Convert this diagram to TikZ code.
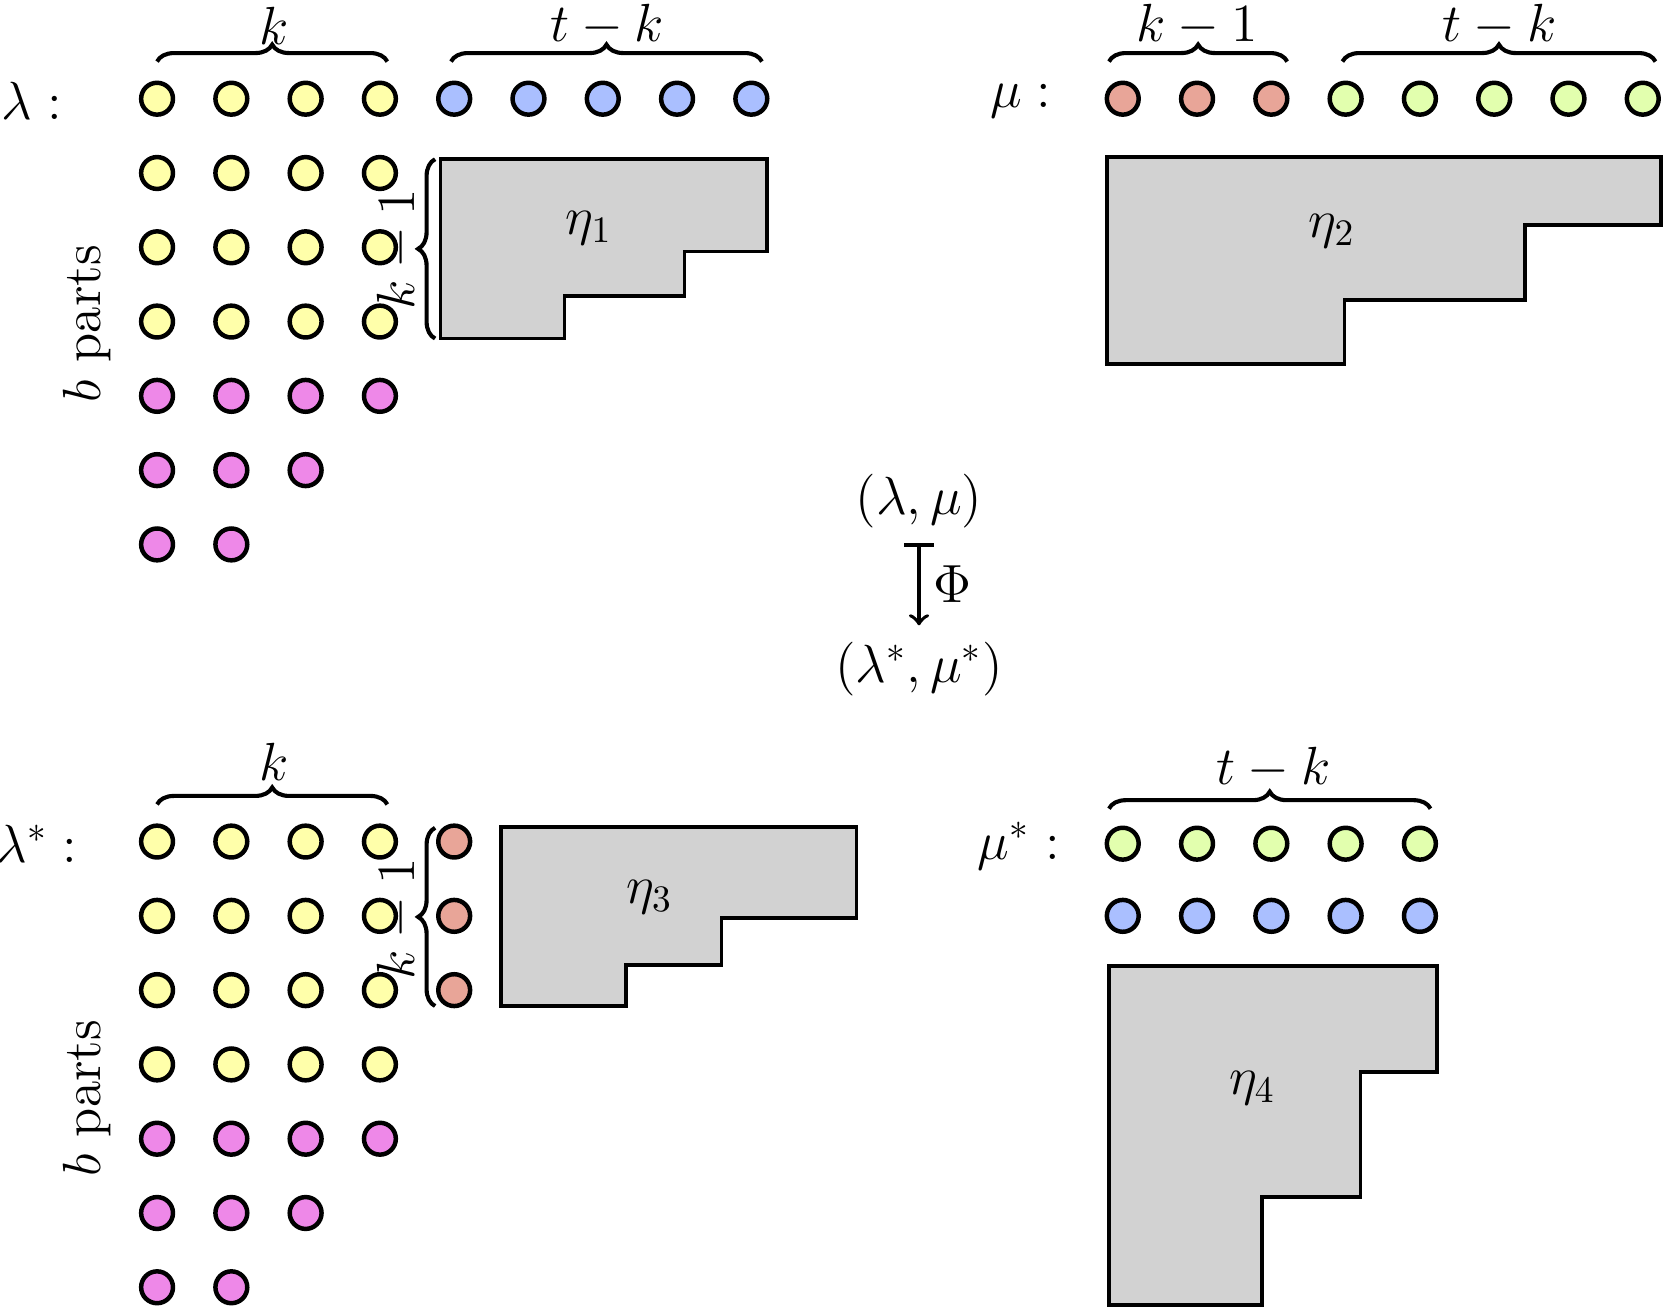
\documentclass[tikz,border=0pt]{standalone}
\usetikzlibrary{decorations.pathreplacing}
\definecolor{dotyellow}{HTML}{FFFFAA}
\definecolor{dotblue}{HTML}{AABFFF}
\definecolor{dotpink}{HTML}{EE88E8}
\definecolor{dotred}{HTML}{E8A598}
\definecolor{dotgreen}{HTML}{E2FFAE}
\tikzset{
  dot/.style={draw=black, line width=1.2pt, circle, minimum size=0.3cm, inner sep=0pt},
  block/.style={draw=black, fill=gray!35, line width=1pt},
  brc/.style={decorate, decoration={brace, amplitude=0.16cm}, line width=1.1pt},
  lbl/.style={font=\Large},
}
\begin{document}
\begin{tikzpicture}[x=0.01cm, y=-0.01cm]
  \useasboundingbox (0,0) rectangle (1568,1235);

  % lambda
  \node[lbl] (lam) at (30,95) {$\lambda:$};
  \foreach \r in {1,...,4} \foreach \c in {1,...,4}
    \node[dot, fill=dotyellow] (l\r\c) at ({78+70*\c},{23+70*\r}) {};
  \foreach \c in {1,...,4} \node[dot, fill=dotpink] at ({78+70*\c},373) {};
  \foreach \c in {1,...,3} \node[dot, fill=dotpink] at ({78+70*\c},443) {};
  \foreach \c in {1,...,2} \node[dot, fill=dotpink] at ({78+70*\c},513) {};
  \foreach \c in {5,...,9} \node[dot, fill=dotblue] (lb\c) at ({78+70*\c},93) {};
  \draw[brc] (148,58) -- (365,58);
  \node[lbl] at (258,24) {$k$};
  \draw[brc] (425,58) -- (718,58);
  \node[lbl] at (572,24) {$t-k$};
  \node[lbl, rotate=90] at (82,305) {$b$ parts};
  \draw[block] (415,150) -- (723,150) -- (723,237) -- (645,237) -- (645,279)
    -- (532,279) -- (532,319) -- (415,319) -- cycle;
  \node[lbl] at (555,215) {$\eta_1$};
  \draw[brc] (410,319) -- (410,150);
  \node[lbl, rotate=90] at (375,235) {$k-1$};

  % mu
  \node[lbl] (mu) at (962,95) {$\mu:$};
  \foreach \c in {1,...,3} \node[dot, fill=dotred] at ({988+70*\c},93) {};
  \foreach \c in {4,...,8} \node[dot, fill=dotgreen] at ({988+70*\c},93) {};
  \draw[brc] (1045,58) -- (1213,58);
  \node[lbl] at (1128,24) {$k-1$};
  \draw[brc] (1265,58) -- (1560,58);
  \node[lbl] at (1413,24) {$t-k$};
  \draw[block] (1043,148) -- (1565,148) -- (1565,212) -- (1437,212) -- (1437,283)
    -- (1267,283) -- (1267,343) -- (1043,343) -- cycle;
  \node[lbl] at (1255,218) {$\eta_2$};

  % map
  \node[lbl] (pair) at (866,472) {$(\lambda,\mu)$};
  \node[lbl] (pairs) at (866,630) {$(\lambda^*,\mu^*)$};
  \draw[|->, line width=1pt] ([yshift=-0.02cm]pair.south) -- node[lbl, right] {$\Phi$} ([yshift=0.03cm]pairs.north);

  % lambda star
  \node[lbl] (lams) at (35,795) {$\lambda^*:$};
  \foreach \r in {1,...,4} \foreach \c in {1,...,4}
    \node[dot, fill=dotyellow] at ({78+70*\c},{723+70*\r}) {};
  \foreach \c in {1,...,4} \node[dot, fill=dotpink] at ({78+70*\c},1073) {};
  \foreach \c in {1,...,3} \node[dot, fill=dotpink] at ({78+70*\c},1143) {};
  \foreach \c in {1,...,2} \node[dot, fill=dotpink] at ({78+70*\c},1213) {};
  \foreach \r in {1,...,3} \node[dot, fill=dotred] at (428,{723+70*\r}) {};
  \draw[brc] (148,758) -- (365,758);
  \node[lbl] at (258,718) {$k$};
  \node[lbl, rotate=90] at (82,1035) {$b$ parts};
  \draw[brc] (410,948) -- (410,780);
  \node[lbl, rotate=90] at (375,866) {$k-1$};
  \draw[block] (472,779) -- (807,779) -- (807,865) -- (680,865) -- (680,909)
    -- (590,909) -- (590,948) -- (472,948) -- cycle;
  \node[lbl] at (612,845) {$\eta_3$};

  % mu star
  \node[lbl] (mus) at (960,797) {$\mu^*:$};
  \foreach \c in {1,...,5} {
    \node[dot, fill=dotgreen] at ({988+70*\c},795) {};
    \node[dot, fill=dotblue] at ({988+70*\c},863) {};
  }
  \draw[brc] (1045,762) -- (1348,762);
  \node[lbl] at (1200,724) {$t-k$};
  \draw[block] (1045,910) -- (1354,910) -- (1354,1010) -- (1282,1010) -- (1282,1128)
    -- (1189,1128) -- (1189,1230) -- (1045,1230) -- cycle;
  \node[lbl] at (1180,1025) {$\eta_4$};
\end{tikzpicture}
\end{document}
